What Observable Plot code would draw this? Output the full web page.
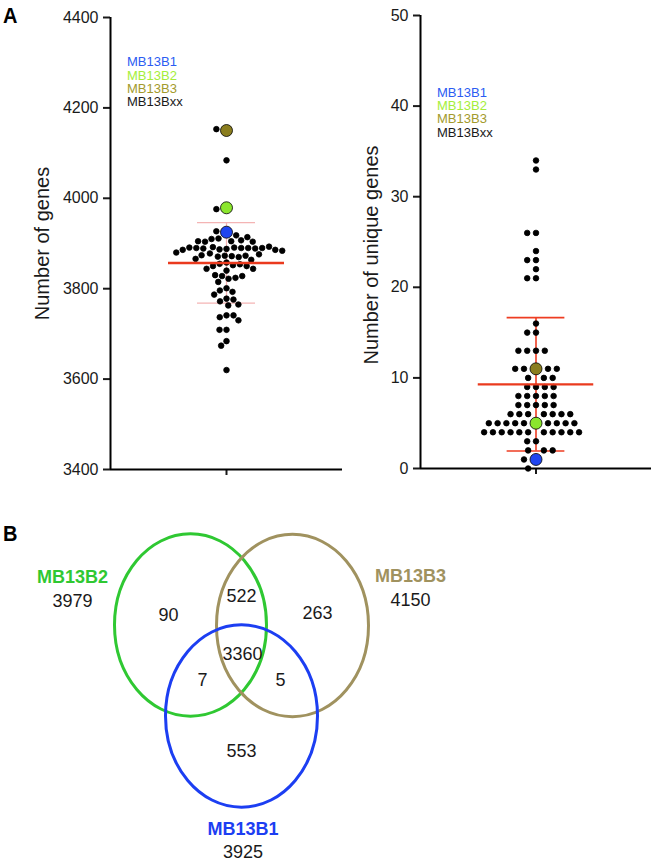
<!DOCTYPE html>
<html>
<head>
<meta charset="utf-8">
<script src="https://cdn.jsdelivr.net/npm/d3@7"></script>
<script src="https://cdn.jsdelivr.net/npm/@observablehq/plot@0.6"></script>
<style>
  html, body { margin: 0; padding: 0; background: #fff; }
  #fig { position: relative; width: 653px; height: 864px; overflow: hidden;
         font-family: "Liberation Sans", Arial, Helvetica, sans-serif; color: #1a1a1a; }
  #fig > .abs { position: absolute; }
  .letter { font-weight: bold; font-size: 20px; line-height: 20px; color: #000; transform: scaleY(1.1); transform-origin: 0 0; }
  .legend { font-size: 13px; line-height: 13.4px; white-space: nowrap; }
  .legend div { height: 13.4px; overflow: visible; }
  .ax g[aria-label$="axis tick"] { stroke-width: 2px; }
  .ax g[aria-label="y-axis"] line, .ax g[aria-label="x-axis"] line { stroke-width: 2px; }
</style>
</head>
<body>
<div id="fig"></div>
<script>
// ---------------- DATA ----------------
const strains = ["MB13B1", "MB13B2", "MB13B3", "MB13Bxx"];
const legendColors = ["#2b5cf2", "#a4ee3a", "#a39a2c", "#1a1a1a"];
const highlightColors = ["#1f45f0", "#8be62e", "#8a7d1e"]; // MB13B1, MB13B2, MB13B3

// Panel A (left): number of genes
const genesHighlighted = [3925, 3979, 4150]; // MB13B1, MB13B2, MB13B3
const genesOthers = [
  4153, 4084, 3976, 3927, 3918, 3911, 3907, 3910, 3914, 3905, 3904, 3904, 3905,
  3888, 3887, 3891, 3892, 3890, 3890, 3889, 3889, 3890, 3890, 3891, 3893, 3886, 3886,
  3878, 3873, 3872, 3871, 3870, 3873, 3874, 3876, 3880, 3884,
  3864, 3866, 3858, 3855, 3852, 3854, 3850, 3850, 3844, 3840, 3844,
  3828, 3822, 3824, 3830, 3828, 3815,
  3801, 3796, 3793, 3787, 3778, 3772, 3776, 3763, 3765,
  3741, 3737, 3741, 3730, 3709, 3709, 3684, 3674, 3620
];
const genesTicks = [3400, 3600, 3800, 4000, 4200, 4400];

// Panel A (right): number of unique genes
const uniqueHighlighted = [1, 5, 11]; // MB13B1, MB13B2, MB13B3
const uniqueOthers = [
  34, 33, 26, 26, 24, 23, 23, 22, 21, 21,
  16, 15, 15, 13, 13, 13, 13,
  11, 11, 11, 11, 10, 10, 10, 9, 9, 9, 9,
  8, 8, 8, 8, 8, 7, 7, 7, 7, 7,
  6, 6, 6, 6, 6, 6, 6,
  5, 5, 5, 5, 5, 5, 5, 5, 5,
  4, 4, 4, 4, 4, 4, 4, 4, 4, 4, 4,
  3, 3, 2, 2, 2, 1, 0
];
const uniqueTicks = [0, 10, 20, 30, 40, 50];

// Panel B: Venn diagram
const vennSets = ["MB13B2", "MB13B3", "MB13B1"];
const vennTotals = [3979, 4150, 3925];
const vennColors = ["#2fc832", "#a0925f", "#1c3ef2"];
const regionKeys = ["B2", "B2B3", "B3", "B1B2B3", "B1B2", "B1B3", "B1"];
const regionCounts = [90, 522, 263, 3360, 7, 5, 553];

// ---------------- LAYOUT (not data) ----------------
const FONT = '"Liberation Sans", Arial, Helvetica, sans-serif';
const meanHalf = 0.5, capHalf = 0.25;
const vennLayout = {
  circles: { MB13B2: [190, 144.5], MB13B3: [292, 145], MB13B1: [241, 235.5] },
  rx: 76, aspect: 1.2,
  setLabels: { MB13B2: [72, 97], MB13B3: [410, 96], MB13B1: [242.5, 348.5] },
  totalOffset: 23.5,
  regions: { B2: [168, 135], B2B3: [241, 116], B3: [317, 133], B1B2B3: [242, 174],
             B1B2: [202, 200], B1B3: [280, 200], B1: [241, 271] }
};

const fig = document.getElementById("fig");
function addDiv(cls, left, top, html) {
  const d = document.createElement("div");
  d.className = "abs " + cls;
  d.style.left = left + "px"; d.style.top = top + "px";
  d.innerHTML = html;
  fig.appendChild(d);
  return d;
}

function swarmPanel(opts) {
  const rows = opts.others.map(v => ({value: v, r: 2.8, fill: "#000"}))
    .concat(opts.highlighted.map((v, i) => ({value: v, r: 6, fill: highlightColors[i]})));
  const all = rows.map(d => d.value);
  const mean = d3.mean(all), sd = d3.deviation(all);
  const plot = Plot.plot({
    width: opts.width, height: 480,
    marginLeft: opts.marginLeft, marginRight: opts.marginRight,
    marginTop: opts.marginTop, marginBottom: opts.marginBottom,
    className: "ax",
    style: {fontFamily: FONT, fontSize: "16px", color: "#1a1a1a", background: "transparent", overflow: "visible"},
    x: {domain: [-1, 1], ticks: [0], tickFormat: () => "", tickSize: 6, label: null},
    y: {domain: [opts.ticks[0], opts.ticks[opts.ticks.length - 1]], ticks: opts.ticks,
        tickFormat: d => String(d), tickSize: 7, tickPadding: 5, label: null},
    r: {type: "identity"},
    color: {type: "identity"},
    marks: [
      Plot.ruleX([-1], {stroke: "#000", strokeWidth: 2}),
      Plot.ruleY([opts.ticks[0]], {x1: -1, x2: 1, stroke: "#000", strokeWidth: 2}),
      Plot.ruleX([0], {y1: mean - sd, y2: mean + sd, stroke: opts.sdColor, strokeWidth: opts.sdWidth}),
      Plot.ruleY([mean - sd, mean + sd], {x1: -capHalf, x2: capHalf, stroke: opts.sdColor, strokeWidth: opts.sdWidth}),
      Plot.dot(rows, Plot.dodgeX({anchor: "middle", padding: opts.padding},
        {y: "value", r: "r", fill: "fill", stroke: "#000", strokeWidth: 0.8})),
      Plot.ruleY([mean], {x1: -meanHalf, x2: meanHalf, stroke: "#ea3a1e", strokeWidth: opts.meanWidth}),
      Plot.text([opts.label], {frameAnchor: "left", rotate: -90, dx: opts.labelDx, dy: opts.labelDy,
        fontSize: 20, textAnchor: "middle", fill: "#1a1a1a"})
    ]
  });
  plot.style.position = "absolute";
  plot.style.left = opts.left + "px";
  plot.style.top = "0px";
  fig.appendChild(plot);
}

swarmPanel({others: genesOthers, highlighted: genesHighlighted, ticks: genesTicks, padding: 1.4,
  width: 343, left: 0, marginLeft: 110, marginRight: 1, marginTop: 17, marginBottom: 11,
  sdColor: "#f4b4b4", sdWidth: 1.3, meanWidth: 2.6, label: "Number of genes", labelDx: -68, labelDy: 0});

swarmPanel({others: uniqueOthers, highlighted: uniqueHighlighted, ticks: uniqueTicks, padding: 3.2,
  width: 310, left: 343, marginLeft: 77, marginRight: 2, marginTop: 15, marginBottom: 12,
  sdColor: "#ee3d22", sdWidth: 1.6, meanWidth: 2.2, label: "Number of unique genes", labelDx: -49, labelDy: 13});

// Legends
function legendHtml() {
  return strains.map((s, i) => `<div style="color:${legendColors[i]}">${s}</div>`).join("");
}
addDiv("legend", 127, 55.3, legendHtml());
addDiv("legend", 437, 85.6, legendHtml());

// Panel letters
addDiv("letter", 3, 4, "A");
addDiv("letter", 3, 522, "B");

// Venn diagram
const K = 0.5522847498;
const ellipseSymbol = {
  draw(ctx, size) {
    const rx = Math.sqrt(size / Math.PI), ry = rx * vennLayout.aspect;
    ctx.moveTo(rx, 0);
    ctx.bezierCurveTo(rx, ry * K, rx * K, ry, 0, ry);
    ctx.bezierCurveTo(-rx * K, ry, -rx, ry * K, -rx, 0);
    ctx.bezierCurveTo(-rx, -ry * K, -rx * K, -ry, 0, -ry);
    ctx.bezierCurveTo(rx * K, -ry, rx, -ry * K, rx, 0);
    ctx.closePath();
  }
};
const circles = vennSets.map((s, i) => ({set: s, cx: vennLayout.circles[s][0], cy: vennLayout.circles[s][1],
  r: vennLayout.rx, color: vennColors[i]}));
const setLabels = vennSets.map((s, i) => ({name: s, total: vennTotals[i], color: vennColors[i],
  x: vennLayout.setLabels[s][0], y: vennLayout.setLabels[s][1]}));
const regions = regionKeys.map((k, i) => ({count: regionCounts[i], x: vennLayout.regions[k][0], y: vennLayout.regions[k][1]}));

const venn = Plot.plot({
  width: 653, height: 384, margin: 0,
  style: {fontFamily: FONT, background: "transparent", overflow: "visible"},
  x: {domain: [0, 653], axis: null},
  y: {domain: [0, 384], reverse: true, axis: null},
  r: {type: "identity"},
  color: {type: "identity"},
  marks: [
    Plot.dot(circles, {x: "cx", y: "cy", r: "r", symbol: ellipseSymbol, fill: "none", stroke: "color", strokeWidth: 3}),
    Plot.text(regions, {x: "x", y: "y", text: d => String(d.count), fontSize: 18, fill: "#1a1a1a"}),
    Plot.text(setLabels, {x: "x", y: "y", text: "name", fontSize: 18, fontWeight: "bold", fill: "color"}),
    Plot.text(setLabels, {x: "x", y: d => d.y + vennLayout.totalOffset, text: d => String(d.total), fontSize: 18, fill: "#1a1a1a"})
  ]
});
venn.style.position = "absolute";
venn.style.left = "0px";
venn.style.top = "480px";
fig.appendChild(venn);
</script>
</body>
</html>
